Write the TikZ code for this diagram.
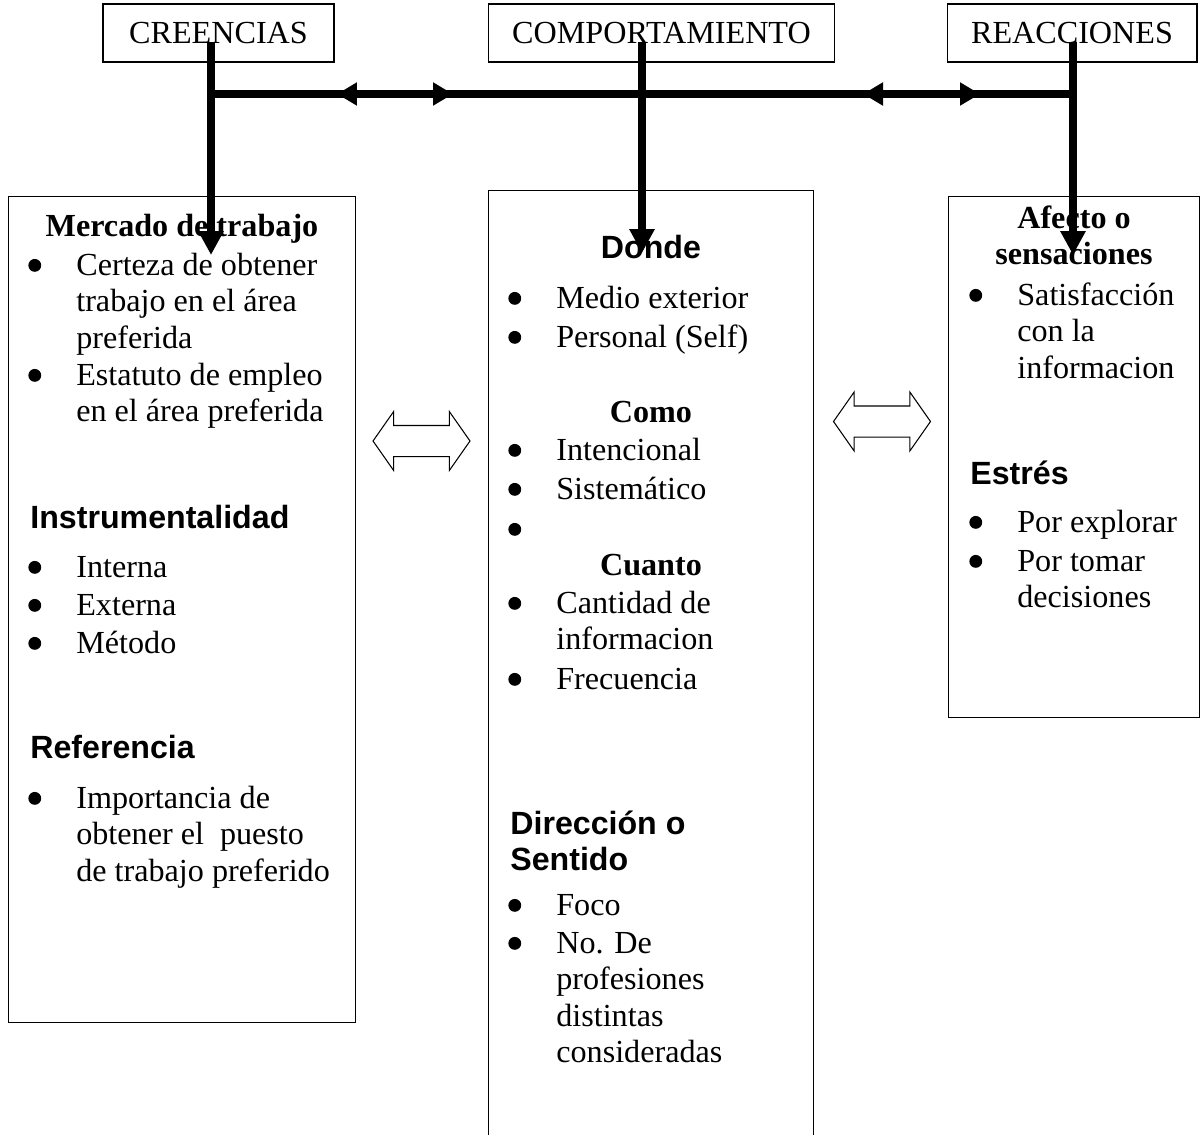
\documentclass[tikz,border=0pt]{standalone}
\usepackage{fontspec}
\setmainfont{Liberation Serif}
\setsansfont{Liberation Sans}
\usetikzlibrary{arrows.meta,shapes.arrows}

\newcommand{\vineta}{\tikz[baseline=0pt]\fill (0,0.3em) circle (0.2em);}
\newcommand{\itm}[1]{\makebox[0.96cm][l]{\vineta}\parbox[t]{6cm}{#1}}

\begin{document}
\begin{tikzpicture}[x=0.02cm, y=-0.02cm,
    every node/.style={inner sep=0pt, font=\fontsize{18.3}{20.8}\selectfont},
    caja/.style={draw=black, line width=0.6pt, minimum height=1.16cm},
    marco/.style={draw=black, line width=0.6pt, anchor=north west},
    txt/.style={anchor=base west},
    tit/.style={anchor=base, font=\fontsize{18.3}{20.8}\selectfont\bfseries},
    sub/.style={anchor=base west, font=\fontsize{18.3}{20.8}\selectfont\sffamily\bfseries},
    subc/.style={sub, anchor=base},
    barra/.style={line width=0.16cm},
    flecha/.style={barra, -{Triangle[length=0.48cm, width=0.48cm]}},
    doble/.style={barra, {Triangle[length=0.4cm, width=0.44cm]}-{Triangle[length=0.4cm, width=0.44cm]}},
    hueca/.style={double arrow, draw=black, line width=0.6pt, minimum height=1.94cm,
      minimum width=1.16cm, double arrow head extend=0.28cm, double arrow tip angle=110,
      inner xsep=0pt, inner ysep=0.3cm}]
  \useasboundingbox (0,0) rectangle (1201,1134);

  % cajas de arriba
  \node[caja, minimum width=4.62cm] (cre) at (218.5,33) {CREENCIAS};
  \node[caja, minimum width=6.94cm] (com) at (661.5,33) {COMPORTAMIENTO};
  \node[caja, minimum width=5cm] (rea) at (1072,33) {REACCIONES};

  % cajas grandes
  \node[marco, minimum width=6.94cm, minimum height=16.52cm] (izq) at (8,196) {};
  \node[marco, minimum width=6.5cm, minimum height=19.4cm] (cen) at (488,190) {};
  \node[marco, minimum width=5.02cm, minimum height=10.42cm] (der) at (948,196) {};

  \node[hueca] (h1) at (421.5,441) {};
  \node[hueca] (h2) at (882,421.5) {};

  % creencias
  \node[tit] (mer) at (izq.center |- 0,236) {Mercado de trabajo};
  \node[txt] (cer) at (28,275) {\itm{Certeza de obtener\\trabajo en el área\\preferida}};
  \node[txt] (est) at (28,385) {\itm{Estatuto de empleo\\en el área preferida}};
  \node[sub] (ins) at (30,528) {Instrumentalidad};
  \node[txt] (int) at (28,577) {\itm{Interna}};
  \node[txt] (ext) at (28,615) {\itm{Externa}};
  \node[txt] (met) at (28,653) {\itm{Método}};
  \node[sub] (ref) at (30,758) {Referencia};
  \node[txt] (imp) at (28,808) {\itm{Importancia de\\obtener el\ \ puesto\\de trabajo preferido}};

  % comportamiento
  \node[subc] (don) at (cen.center |- 0,258) {Donde};
  \node[txt] (med) at (508,308) {\itm{Medio exterior}};
  \node[txt] (per) at (508,347) {\itm{Personal (Self)}};
  \node[tit] (como) at (cen.center |- 0,422) {Como};
  \node[txt] (inte) at (508,460) {\itm{Intencional}};
  \node[txt] (sis) at (508,499) {\itm{Sistemático}};
  \node[txt] (vac) at (508,539) {\itm{}};
  \node[tit] (cua) at (cen.center |- 0,575) {Cuanto};
  \node[txt] (can) at (508,613) {\itm{Cantidad de\\informacion}};
  \node[txt] (fre) at (508,689) {\itm{Frecuencia}};
  \node[sub] (dir) at (510,834) {\parbox[t]{6cm}{Dirección o\\Sentido}};
  \node[txt] (foc) at (508,915) {\itm{Foco}};
  \node[txt] (num) at (508,953) {\itm{No. De\\profesiones\\distintas\\consideradas}};

  % reacciones
  \node[tit] (afe) at (der.center |- 0,228) {\parbox[t]{5cm}{\centering Afecto o\\sensaciones}};
  \node[txt] (sat) at (969,305) {\itm{Satisfacción\\con la\\informacion}};
  \node[sub] (estr) at (970,484) {Estrés};
  \node[txt] (exp) at (969,532) {\itm{Por explorar}};
  \node[txt] (tom) at (969,571) {\itm{Por tomar\\decisiones}};

  % flechas negras
  \coordinate (cre a) at (211,42);
  \coordinate (cre b) at (211,255);
  \coordinate (com a) at (642,42);
  \coordinate (com b) at (642,253);
  \coordinate (rea a) at (1073,42);
  \coordinate (rea b) at (1073,255);
  \coordinate (hl) at (211,94);
  \coordinate (hr) at (1073,94);
  \coordinate (p1) at (337,94);
  \coordinate (p2) at (453,94);
  \coordinate (q1) at (863,94);
  \coordinate (q2) at (980,94);

  \draw[barra] (hl) -- (hr);
  \draw[doble] (p1) -- (p2);
  \draw[doble] (q1) -- (q2);
  \draw[flecha] (cre a) -- (cre b);
  \draw[flecha] (com a) -- (com b);
  \draw[flecha] (rea a) -- (rea b);
\end{tikzpicture}
\end{document}
